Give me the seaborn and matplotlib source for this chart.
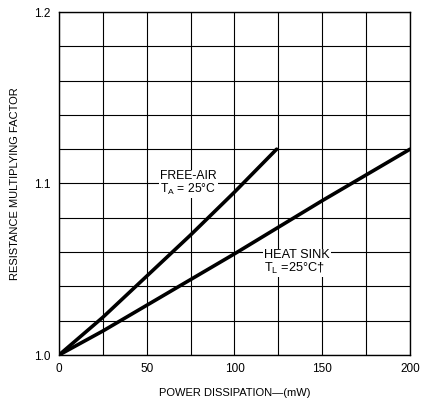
import matplotlib
matplotlib.use("Agg")
import matplotlib.pyplot as plt
import seaborn as sns
import pandas as pd

# Data
free_air_x = [0, 25, 50, 75, 100, 124]
free_air_y = [1.000, 1.022, 1.046, 1.070, 1.095, 1.120]
heat_sink_x = [0, 25, 50, 100, 150, 200]
heat_sink_y = [1.000, 1.014, 1.029, 1.059, 1.090, 1.120]
x_ticks = [0, 50, 100, 150, 200]
y_ticks = [1.0, 1.1, 1.2]

sns.set_style("white")
plt.rcParams['font.family'] = ['Liberation Sans', 'DejaVu Sans']
plt.rcParams['text.color'] = 'black'
plt.rcParams['axes.labelcolor'] = 'black'
plt.rcParams['xtick.color'] = 'black'
plt.rcParams['ytick.color'] = 'black'

df = pd.concat([
    pd.DataFrame({"x": free_air_x, "y": free_air_y, "s": "free"}),
    pd.DataFrame({"x": heat_sink_x, "y": heat_sink_y, "s": "heat"}),
])

fig = plt.figure(figsize=(4.22, 4.05), dpi=100)
ax = fig.add_axes([59/422, 1-355/405, (410-59)/422, (355-12)/405])

# grid
for gx in range(0, 201, 25):
    ax.axvline(gx, color="black", lw=0.8, zorder=1)
for i in range(11):
    ax.axhline(1.0 + 0.02*i, color="black", lw=0.8, zorder=1)

sns.lineplot(data=df, x="x", y="y", units="s", estimator=None,
             color="black", lw=2.6, ax=ax, zorder=3, legend=False)

ax.set_xlim(0, 200)
ax.set_ylim(1.0, 1.2)
ax.set_xticks(x_ticks)
ax.set_xticklabels([str(t) for t in x_ticks])
ax.set_yticks(y_ticks)
ax.set_yticklabels([f"{t:.1f}" for t in y_ticks])
ax.tick_params(length=0, labelsize=8.5, pad=6, colors="black")
for s in ax.spines.values():
    s.set_color("black")
    s.set_linewidth(1.0)

ax.set_xlabel("POWER DISSIPATION\u2014(mW)", fontsize=8, labelpad=9, color="black")
ax.set_ylabel("RESISTANCE MULTIPLYING FACTOR", fontsize=8, labelpad=10, color="black")

bbox = dict(facecolor="white", edgecolor="none", pad=1.0)
ax.text(57.5, 1.1, "FREE-AIR\nT$_\\mathregular{A}$ = 25\u00b0C", fontsize=8.7,
        ha="left", va="center", bbox=bbox, zorder=2, linespacing=0.95, color="black")
ax.text(117, 1.054, "HEAT SINK\nT$_\\mathregular{L}$ =25\u00b0C\u2020", fontsize=9.2,
        ha="left", va="center", bbox=bbox, zorder=2, linespacing=0.95, color="black")

fig.savefig("out.png", dpi=100)
